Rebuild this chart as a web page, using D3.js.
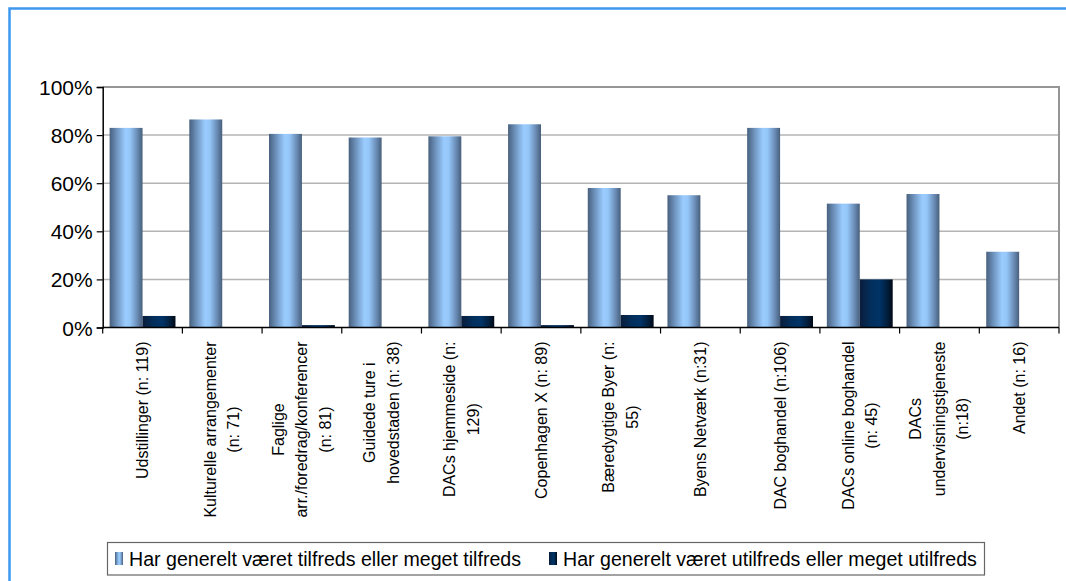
<!DOCTYPE html>
<html>
<head>
<meta charset="utf-8">
<script src="https://cdn.jsdelivr.net/npm/d3@7"></script>
<style>
  html, body { margin: 0; padding: 0; background: #ffffff; }
  svg { display: block; font-family: "Liberation Sans", Arial, sans-serif; }
</style>
</head>
<body>
<svg id="chart" width="1066" height="581"></svg>
<script>
// Categories (each entry is the list of wrapped label lines)
const categoryLines = [
  ["Udstillinger (n:  119)"],
  ["Kulturelle arrangementer", "(n: 71)"],
  ["Faglige", "arr./foredrag/konferencer", "(n: 81)"],
  ["Guidede ture i", "hovedstaden (n: 38)"],
  ["DACs hjemmeside (n:", "129)"],
  ["Copenhagen X (n: 89)"],
  ["Bæredygtige Byer (n:", "55)"],
  ["Byens Netværk (n:31)"],
  ["DAC boghandel (n:106)"],
  ["DACs online boghandel", "(n: 45)"],
  ["DACs", "undervisningstjeneste", "(n:18)"],
  ["Andet  (n: 16)"]
];
const categories = categoryLines.map(l => l.join(" "));

// Share of respondents (%)
const satisfied   = [83, 86.5, 80.5, 79, 79.5, 84.5, 58, 55, 83, 51.5, 55.5, 31.5];
const unsatisfied = [4.8, 0, 1, 0, 4.8, 1, 5.2, 0, 4.8, 20, 0, 0];

const seriesNames = [
  "Har generelt været tilfreds eller meget tilfreds",
  "Har generelt været utilfreds eller meget utilfreds"
];
const yTicks = [0, 20, 40, 60, 80, 100];

const svg = d3.select("#chart");

// gradients for the cylinder-like bar shading
const defs = svg.append("defs");
function stripeGradient(id, stops) {
  const g = defs.append("linearGradient").attr("id", id)
    .attr("x1", "0%").attr("x2", "100%").attr("y1", "0%").attr("y2", "0%");
  stops.forEach(([o, c]) => g.append("stop").attr("offset", o).attr("stop-color", c));
}
stripeGradient("gradLight", [["0%", "#48607e"], ["22%", "#6e93bd"], ["48%", "#9accff"], ["62%", "#94c6f8"], ["85%", "#6889b2"], ["100%", "#475f7b"]]);
stripeGradient("gradDark", [["0%", "#0a1d3b"], ["35%", "#022f5c"], ["60%", "#003366"], ["85%", "#011d3a"], ["100%", "#000916"]]);
const fills = ["url(#gradLight)", "url(#gradDark)"];

// outer frame
svg.append("rect")
  .attr("x", 9.5).attr("y", 8.5).attr("width", 1070).attr("height", 590)
  .attr("fill", "none").attr("stroke", "#3d98f0").attr("stroke-width", 2.5);

// plot area
const plotLeft = 102.7, plotRight = 1059, plotTop = 87, plotBottom = 327.5;

const x0 = d3.scaleBand().domain(categories).range([plotLeft, plotRight]).paddingInner(0).paddingOuter(0);
const x1 = d3.scaleBand().domain([0, 1]).range([0, x0.bandwidth()]).paddingInner(0).paddingOuter(0.21);
const y = d3.scaleLinear().domain([0, 100]).range([plotBottom, plotTop]);

// gridlines
svg.append("g").selectAll("line")
  .data(yTicks.filter(t => t > 0 && t < 100))
  .join("line")
  .attr("x1", plotLeft).attr("x2", plotRight)
  .attr("y1", d => y(d)).attr("y2", d => y(d))
  .attr("stroke", "#b4b4b4").attr("stroke-width", 1.5);

// plot-area border (top and right)
svg.append("path")
  .attr("d", `M${plotLeft},${y(100)}H${plotRight}V${plotBottom}`)
  .attr("fill", "none").attr("stroke", "#969696").attr("stroke-width", 2);

// bars
const groups = svg.append("g").selectAll("g")
  .data(categories)
  .join("g")
  .attr("transform", d => `translate(${x0(d)},0)`);

groups.selectAll("rect")
  .data((d, i) => [satisfied[i], unsatisfied[i]].map((v, s) => ({ v, s })))
  .join("rect")
  .attr("x", d => x1(d.s))
  .attr("width", x1.bandwidth())
  .attr("y", d => y(d.v))
  .attr("height", d => plotBottom - y(d.v))
  .attr("fill", d => fills[d.s]);

// y axis
const yAxis = svg.append("g")
  .attr("transform", `translate(${plotLeft},0)`)
  .call(d3.axisLeft(y).tickValues(yTicks).tickSize(6).tickPadding(4).tickFormat(d => d + "%"));
yAxis.select(".domain").attr("stroke", "#000").attr("stroke-width", 1.5);
yAxis.selectAll(".tick line").attr("stroke", "#000").attr("stroke-width", 1.2);
yAxis.selectAll(".tick text")
  .attr("font-size", 21).attr("fill", "#000")
  .attr("font-family", "'Liberation Sans', Arial, sans-serif")
  .attr("x", -10).attr("dy", "0.36em");

// x axis line and category separators
svg.append("line")
  .attr("x1", plotLeft).attr("x2", plotRight).attr("y1", plotBottom).attr("y2", plotBottom)
  .attr("stroke", "#000").attr("stroke-width", 1.5);
const sepTicks = categories.map(c => x0(c)).concat([plotRight]);
svg.append("g").selectAll("line")
  .data(sepTicks)
  .join("line")
  .attr("x1", d => d).attr("x2", d => d)
  .attr("y1", plotBottom).attr("y2", plotBottom + 6)
  .attr("stroke", "#000").attr("stroke-width", 1.2);

// rotated category labels
const labelTop = 341.5, lineGap = 23.5;
const labels = svg.append("g").selectAll("g")
  .data(categoryLines)
  .join("g")
  .attr("transform", (d, i) => `translate(${x0(categories[i]) + x0.bandwidth() / 2},${labelTop}) rotate(-90)`)
  .attr("font-size", 16).attr("fill", "#000");

labels.each(function (lines) {
  const g = d3.select(this);
  const texts = g.selectAll("text")
    .data(lines)
    .join("text")
    .attr("text-anchor", "middle")
    .attr("dominant-baseline", "central")
    .attr("y", (d, i) => (i - (lines.length - 1) / 2) * lineGap)
    .text(d => d);
  let maxLen = 0;
  texts.each(function () { maxLen = Math.max(maxLen, this.getComputedTextLength()); });
  texts.attr("x", -maxLen / 2);
});

// legend
const legend = svg.append("g");
legend.append("rect")
  .attr("x", 107.5).attr("y", 542.5).attr("width", 877).attr("height", 32.5)
  .attr("fill", "#fff").attr("stroke", "#666").attr("stroke-width", 1.2);
const legendX = [115, 549];
const legendItems = legend.selectAll("g.item")
  .data(seriesNames)
  .join("g").attr("class", "item")
  .attr("transform", (d, i) => `translate(${legendX[i]},0)`);
legendItems.append("rect")
  .attr("x", 0).attr("y", 552).attr("width", 8).attr("height", 13)
  .attr("fill", (d, i) => fills[i]);
legendItems.append("text")
  .attr("x", 14).attr("y", 565.5)
  .attr("font-size", 19.6).attr("fill", "#000")
  .text(d => d);
</script>
</body>
</html>
